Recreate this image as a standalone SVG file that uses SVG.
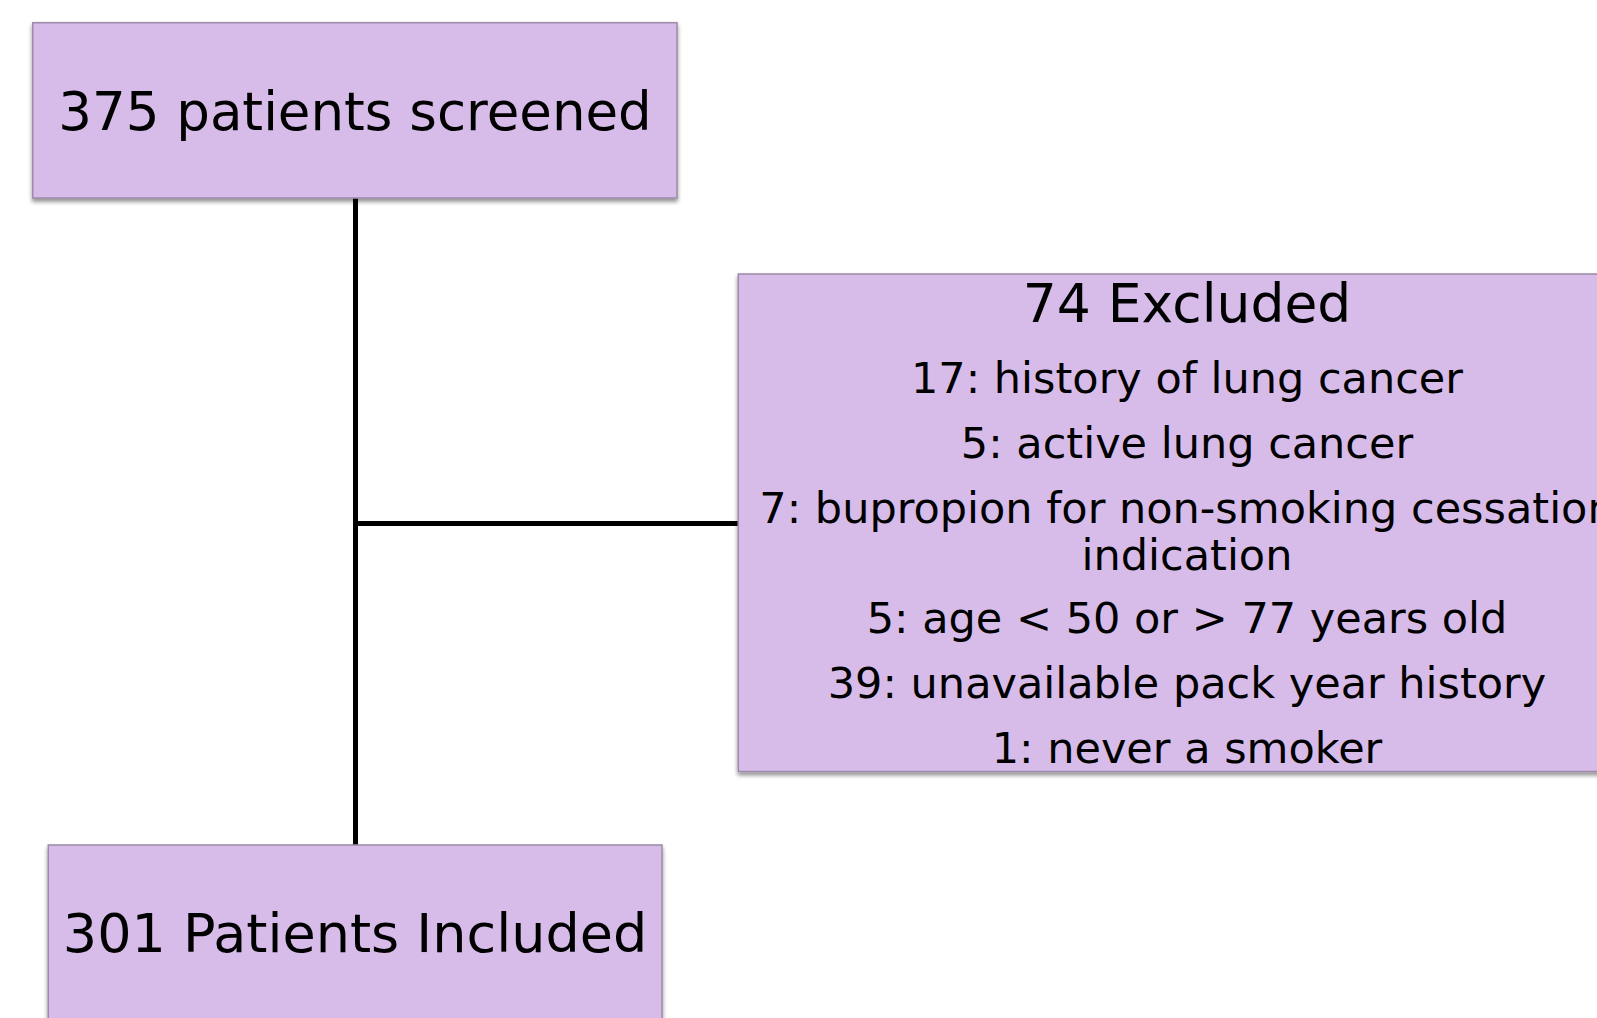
<svg xmlns="http://www.w3.org/2000/svg" width="1597" height="1018" viewBox="0 0 1597 1018">
  <style>
    .box { fill: #D7BCEA; stroke: #9C8AA8; stroke-width: 1.5; }
    .t { font-family: "DejaVu Sans", "Liberation Sans", sans-serif; fill: #000000; text-anchor: middle; }
    .big { font-size: 53px; }
    .small { font-size: 43px; }
    .conn { stroke: #000000; stroke-width: 5; fill: none; }
  </style>
  <defs>
    <filter id="shadow" x="-5%" y="-5%" width="110%" height="115%">
      <feGaussianBlur in="SourceAlpha" stdDeviation="2"/>
      <feOffset dx="0" dy="3" result="b"/>
      <feComponentTransfer><feFuncA type="linear" slope="0.45"/></feComponentTransfer>
      <feMerge><feMergeNode/><feMergeNode in="SourceGraphic"/></feMerge>
    </filter>
  </defs>
  <rect width="1597" height="1018" fill="#FFFFFF"/>
  <g id="connectors">
    <line class="conn" x1="355.5" y1="197" x2="355.5" y2="846"/>
    <line class="conn" x1="355.5" y1="523.5" x2="739" y2="523.5"/>
  </g>
  <g id="screened">
    <rect class="box" x="32.7" y="22.7" width="644.3" height="175.3" filter="url(#shadow)"/>
    <text class="t big" x="355" y="130">375 patients screened</text>
  </g>
  <g id="excluded">
    <rect class="box" x="738.3" y="274" width="897.4" height="497.5" filter="url(#shadow)"/>
    <text class="t big" x="1187" y="321.7" style="font-size:53.5px">74 Excluded</text>
    <text class="t small" x="1187" y="393.3">17: history of lung cancer</text>
    <text class="t small" x="1187" y="458.3">5: active lung cancer</text>
    <text class="t small" x="1187" y="523.3">7: bupropion for non-smoking cessation</text>
    <text class="t small" x="1187" y="570">indication</text>
    <text class="t small" x="1187" y="633.3">5: age &lt; 50 or &gt; 77 years old</text>
    <text class="t small" x="1187" y="698.3">39: unavailable pack year history</text>
    <text class="t small" x="1187" y="763.3">1: never a smoker</text>
  </g>
  <g id="included">
    <rect class="box" x="48.3" y="845" width="613.7" height="200" filter="url(#shadow)"/>
    <text class="t big" x="355" y="951.7" style="font-size:54px">301 Patients Included</text>
  </g>
</svg>
